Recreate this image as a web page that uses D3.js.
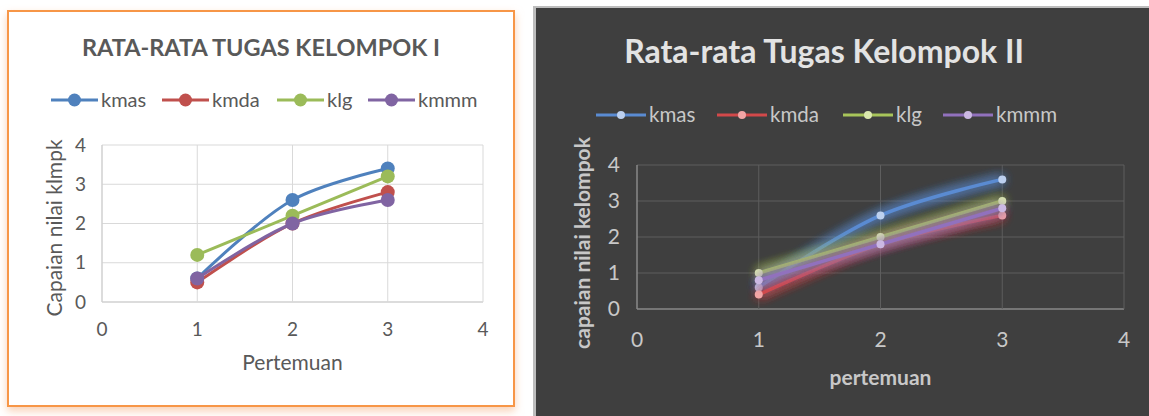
<!DOCTYPE html>
<html>
<head>
<meta charset="utf-8">
<script src="https://cdn.jsdelivr.net/npm/d3@7"></script>
<style>
  body { margin: 0; background: #fff; }
  svg { display: block; }
</style>
</head>
<body>
<div id="stage"></div>
<script>
// data
const pertemuan = [1, 2, 3];
const seriesNames = ['kmas', 'kmda', 'klg', 'kmmm'];
const xTicks = [0, 1, 2, 3, 4];
const yTicks = [0, 1, 2, 3, 4];

const k1Kmas = [0.6, 2.6, 3.4];
const k1Kmda = [0.5, 2.0, 2.8];
const k1Klg = [1.2, 2.2, 3.2];
const k1Kmmm = [0.6, 2.0, 2.6];

const k2Kmas = [0.6, 2.6, 3.6];
const k2Kmda = [0.4, 1.8, 2.6];
const k2Klg = [1.0, 2.0, 3.0];
const k2Kmmm = [0.8, 1.8, 2.8];

const stage = document.querySelector('#stage');

const svg = d3.select(stage).append('svg')
  .attr('width', 1149)
  .attr('height', 416);

const defs = svg.append('defs');

const glow = defs.append('filter')
  .attr('id', 'glow')
  .attr('x', '-20%').attr('y', '-40%')
  .attr('width', '140%').attr('height', '180%');
glow.append('feGaussianBlur')
  .attr('in', 'SourceGraphic')
  .attr('stdDeviation', 6)
  .attr('result', 'blur');
const merge = glow.append('feMerge');
merge.append('feMergeNode').attr('in', 'blur');
merge.append('feMergeNode').attr('in', 'blur');
merge.append('feMergeNode').attr('in', 'blur');
merge.append('feMergeNode').attr('in', 'SourceGraphic');

const shadow = defs.append('filter').attr('id', 'shadow')
  .attr('x', '-5%').attr('y', '-5%').attr('width', '110%').attr('height', '115%');
shadow.append('feDropShadow')
  .attr('dx', 0).attr('dy', 4).attr('stdDeviation', 4)
  .attr('flood-color', '#f4b183').attr('flood-opacity', 0.6);

const drawChart = (opt) => {
  const g = svg.append('g');

  const x = d3.scaleLinear().domain([0, 4]).range([opt.left, opt.right]);
  const y = d3.scaleLinear().domain([0, 4]).range([opt.bottom, opt.top]);

  // grid
  g.append('g').selectAll('line.h')
    .data(yTicks)
    .join('line')
    .attr('x1', opt.left).attr('x2', opt.right)
    .attr('y1', d => y(d)).attr('y2', d => y(d))
    .attr('stroke', d => d === 0 ? opt.axisColor : opt.gridColor)
    .attr('stroke-width', d => d === 0 ? 1.5 : 1);

  g.append('g').selectAll('line.v')
    .data(xTicks)
    .join('line')
    .attr('y1', opt.top).attr('y2', opt.bottom)
    .attr('x1', d => x(d)).attr('x2', d => x(d))
    .attr('stroke', d => d === 0 ? opt.axisColor : opt.gridColor)
    .attr('stroke-width', d => d === 0 ? 1.5 : 1);

  // tick labels
  g.append('g').selectAll('text')
    .data(yTicks)
    .join('text')
    .attr('x', opt.left - opt.yTickGap)
    .attr('y', d => y(d))
    .attr('dy', '0.35em')
    .attr('text-anchor', 'end')
    .attr('font-family', 'Lato, sans-serif')
    .attr('font-size', opt.tickSize)
    .attr('fill', opt.tickColor)
    .text(d => d);

  g.append('g').selectAll('text')
    .data(xTicks)
    .join('text')
    .attr('x', d => x(d))
    .attr('y', opt.xTickY)
    .attr('text-anchor', 'middle')
    .attr('font-family', 'Lato, sans-serif')
    .attr('font-size', opt.tickSize)
    .attr('fill', opt.tickColor)
    .text(d => d);

  // titles
  g.append('text')
    .attr('x', opt.titleX).attr('y', opt.titleY)
    .attr('text-anchor', 'middle')
    .attr('font-family', 'Lato, sans-serif')
    .attr('font-weight', 'bold')
    .attr('font-size', opt.titleSize)
    .attr('fill', opt.titleColor)
    .text(opt.title);

  g.append('text')
    .attr('x', (opt.left + opt.right) / 2).attr('y', opt.xTitleY)
    .attr('text-anchor', 'middle')
    .attr('font-family', 'Lato, sans-serif')
    .attr('font-weight', opt.axisTitleWeight)
    .attr('font-size', opt.axisTitleSize)
    .attr('fill', opt.tickColor)
    .text(opt.xTitle);

  g.append('text')
    .attr('transform', `translate(${opt.yTitleX},${opt.yTitleY}) rotate(-90)`)
    .attr('text-anchor', 'middle')
    .attr('font-family', 'Lato, sans-serif')
    .attr('font-weight', opt.axisTitleWeight)
    .attr('font-size', opt.axisTitleSize)
    .attr('fill', opt.tickColor)
    .text(opt.yTitle);

  // legend
  const leg = g.append('g').selectAll('g')
    .data(seriesNames)
    .join('g')
    .attr('transform', (d, i) => `translate(${opt.legendX[i]},${opt.legendY})`);
  leg.append('line')
    .attr('x1', 0).attr('x2', opt.legendLine)
    .attr('stroke', (d, i) => opt.colors[i])
    .attr('stroke-width', 3);
  leg.append('circle')
    .attr('cx', opt.legendLine / 2)
    .attr('r', opt.legendDot)
    .attr('fill', (d, i) => opt.markColors[i]);
  leg.append('text')
    .attr('x', opt.legendLine + 3)
    .attr('dy', '0.35em')
    .attr('font-family', 'Lato, sans-serif')
    .attr('font-size', opt.legendSize)
    .attr('fill', opt.tickColor)
    .text(d => d);

  // series
  const lineFn = d3.line()
    .x((d, i) => x(pertemuan[i]))
    .y(d => y(d))
    .curve(d3.curveCatmullRom.alpha(0.5));

  opt.series.forEach((vals, i) => {
    const s = g.append('g');
    s.append('path')
      .attr('d', lineFn(vals))
      .attr('fill', 'none')
      .attr('stroke', opt.colors[i])
      .attr('stroke-width', opt.lineWidth)
      .attr('stroke-linecap', 'round')
      .attr('filter', opt.glow ? 'url(#glow)' : null);
    s.selectAll('circle')
      .data(vals)
      .join('circle')
      .attr('cx', (d, j) => x(pertemuan[j]))
      .attr('cy', d => y(d))
      .attr('r', opt.dot)
      .attr('fill', opt.markColors[i]);
  });
};

// left panel frame
svg.append('rect')
  .attr('x', 8).attr('y', 11)
  .attr('width', 506).attr('height', 395)
  .attr('fill', '#fff')
  .attr('stroke', '#f79646')
  .attr('stroke-width', 2)
  .attr('filter', 'url(#shadow)');

// right panel background
svg.append('rect')
  .attr('x', 533).attr('y', 6)
  .attr('width', 616).attr('height', 410)
  .attr('fill', '#bdbdbd');
svg.append('rect')
  .attr('x', 536).attr('y', 8)
  .attr('width', 613).attr('height', 408)
  .attr('fill', '#3f3f3f');

drawChart({
  title: 'RATA-RATA TUGAS KELOMPOK I',
  titleX: 261, titleY: 56, titleSize: 23.5, titleColor: '#595959',
  xTitle: 'Pertemuan', yTitle: 'Capaian nilai klmpk',
  left: 102, right: 483, top: 145, bottom: 302,
  gridColor: '#d9d9d9', axisColor: '#d0d0d0',
  tickColor: '#595959', tickSize: 19, yTickGap: 16, xTickY: 336,
  xTitleY: 370, yTitleX: 62, yTitleY: 228,
  axisTitleSize: 21, axisTitleWeight: 'normal',
  legendX: [51, 162, 277, 368], legendY: 100, legendLine: 47, legendDot: 6.5, legendSize: 20,
  colors: ['#4f81bd', '#c0504d', '#9bbb59', '#8064a2'],
  markColors: ['#4f81bd', '#c0504d', '#9bbb59', '#8064a2'],
  series: [k1Kmas, k1Kmda, k1Klg, k1Kmmm],
  lineWidth: 3, dot: 7, glow: false
});

drawChart({
  title: 'Rata-rata Tugas Kelompok II',
  titleX: 824, titleY: 63, titleSize: 32, titleColor: '#e3e3e3',
  xTitle: 'pertemuan', yTitle: 'capaian nilai kelompok',
  left: 637, right: 1124, top: 165, bottom: 309,
  gridColor: '#5e5e5e', axisColor: '#8a8a8a',
  tickColor: '#c8c8c8', tickSize: 21, yTickGap: 17, xTickY: 347,
  xTitleY: 385, yTitleX: 590, yTitleY: 243,
  axisTitleSize: 21, axisTitleWeight: 'bold',
  legendX: [596, 717, 843, 943], legendY: 115, legendLine: 50, legendDot: 4, legendSize: 20.5,
  colors: ['#5a8bd2', '#d2494a', '#a8c55a', '#9171bd'],
  markColors: ['#bcd0ef', '#f2a5a5', '#dbe8ae', '#cbb8e3'],
  series: [k2Kmas, k2Kmda, k2Klg, k2Kmmm],
  lineWidth: 3.5, dot: 4, glow: true
});
</script>
</body>
</html>
